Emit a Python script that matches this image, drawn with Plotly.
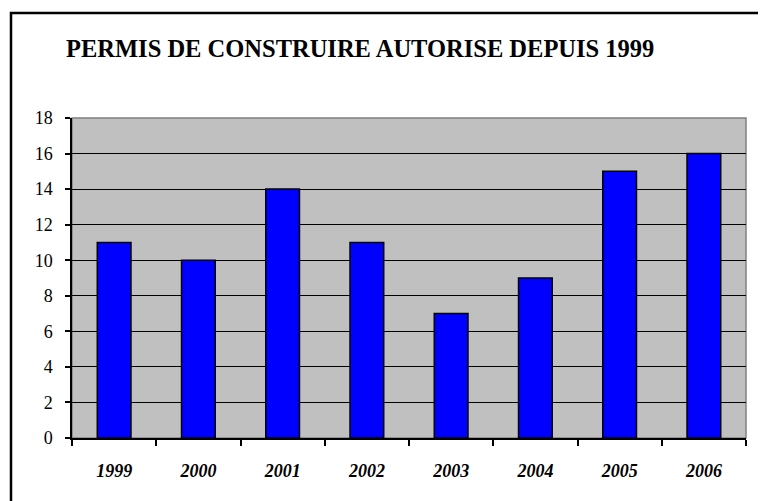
import plotly.graph_objects as go

years = ["1999", "2000", "2001", "2002", "2003", "2004", "2005", "2006"]
permits = [11, 10, 14, 11, 7, 9, 15, 16]
title_text = "PERMIS DE CONSTRUIRE AUTORISE DEPUIS 1999"

OFF = 8  # default body margin of the html page
W, H = 766 - OFF, 501 - OFF
L = 72 - OFF
R = W - (746 - OFF)
T = 118 - OFF
B = H - (438 - OFF)
pw, ph = W - L - R, H - T - B

def px(x):
    return (x - OFF - L) / pw

def py(y):
    return (H - B - (y - OFF)) / ph

serif = "Liberation Serif"

fig = go.Figure()
fig.add_trace(go.Bar(
    x=years, y=permits,
    marker=dict(color="#0000FF", line=dict(color="black", width=1.5)),
    width=0.4,
))

fig.update_layout(
    width=W, height=H,
    margin=dict(l=L, r=R, t=T, b=B, pad=0),
    font=dict(family=serif, color="black"),
    paper_bgcolor="white",
    plot_bgcolor="#C0C0C0",
    showlegend=False,
    xaxis=dict(
        showgrid=False, ticks="outside", tickson="boundaries", ticklen=6,
        tickcolor="black", tickwidth=1.5, showline=True, linecolor="black", linewidth=1.5,
        tickfont=dict(family=serif, size=18, color="black", weight="bold", style="italic"),
        ticklabelstandoff=16,
    ),
    yaxis=dict(
        range=[0, 18], dtick=2, showgrid=True, gridcolor="black", gridwidth=1.2,
        ticks="outside", ticklen=5, tickcolor="black", tickwidth=1.5,
        showline=True, linecolor="black", linewidth=1.5, zeroline=False,
        tickfont=dict(family=serif, size=18, color="black"),
        ticksuffix="\u2002",
    ),
    shapes=[
        dict(type="rect", xref="paper", yref="paper", x0=0, x1=1, y0=0, y1=1,
             line=dict(color="#808080", width=1.5), layer="below"),
        dict(type="rect", xref="paper", yref="paper", x0=px(11), x1=px(763),
             y0=py(515), y1=py(13), line=dict(color="black", width=2.5)),
    ],
    annotations=[
        dict(text="<b>" + title_text + "</b>", xref="paper", yref="paper",
             x=px(64), y=py(48), xanchor="left", yanchor="middle", showarrow=False,
             font=dict(family=serif, size=24.5, color="black")),
    ],
)

fig.write_html("out.html")
